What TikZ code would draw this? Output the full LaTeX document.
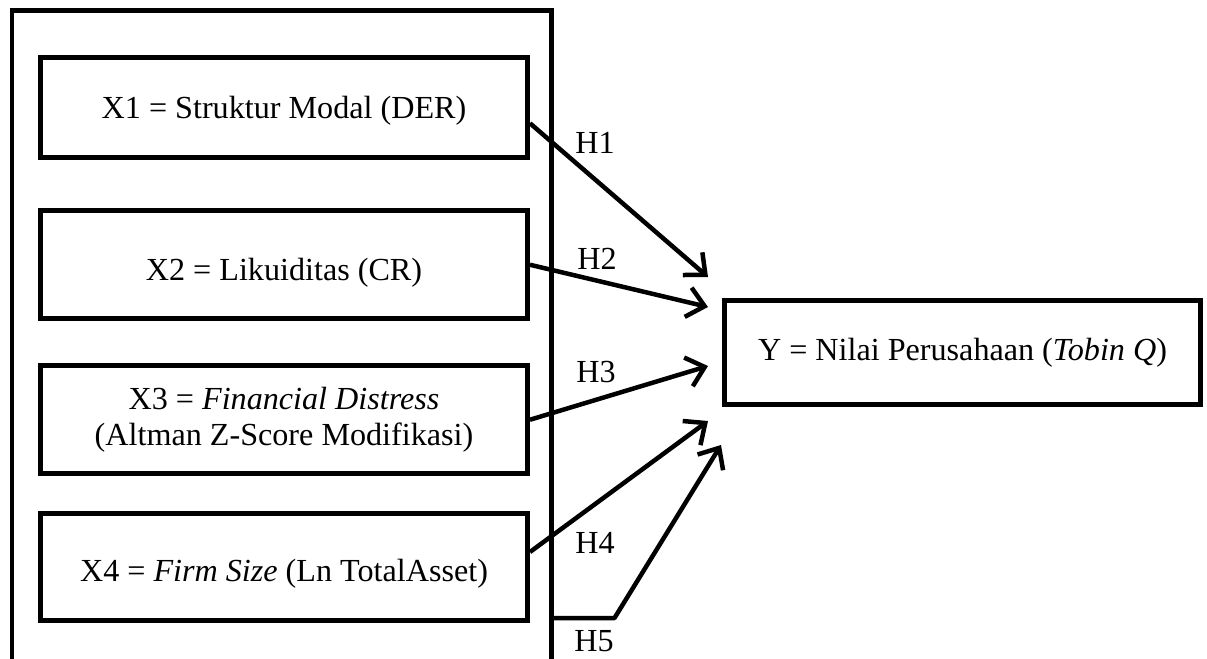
\documentclass[tikz,border=0pt]{standalone}
\usepackage{fontspec}
\setmainfont{Liberation Serif}
\usetikzlibrary{positioning, arrows.meta, calc}

\tikzset{
  varbox/.style={draw, line width=0.1cm, minimum width=9.74cm, align=center, inner sep=0pt},
  hyparrow/.style={line width=0.09cm, line join=round, -{Straight Barb[length=0.34cm, width=0.6cm]}},
  hyplabel/.style={inner sep=0pt}
}

\begin{document}
\begin{tikzpicture}[x=0.02cm, y=-0.02cm, font=\fontsize{18.3}{20}\selectfont]
\useasboundingbox (0,0) rectangle (1207,659);

% Kerangka variabel independen
\draw[line width=0.1cm] (12,659) -- (12,10.5) -- (551.5,10.5) -- (551.5,659);
\coordinate (frameout) at (551.5,618);

% X1 (Struktur Modal)
\node[varbox, minimum height=2.01cm, text height=0.6cm] (x1) at (284,107.25) {X1 = Struktur Modal (DER)};

% X2 (Likuiditas)
\node[varbox, minimum height=2.17cm, text height=0.75cm] (x2) at (284,264.75) {X2 = Likuiditas (CR)};

% X3 (Financial Distress)
\node[varbox, minimum height=2.17cm] (x3) at (284,419.75) {X3 = \textit{Financial Distress}\\(Altman Z-Score Modifikasi)};

% X4 (Firm Size)
\node[varbox, minimum height=2.14cm, text height=0.72cm] (x4) at (284,567) {X4 = \textit{Firm Size} (Ln TotalAsset)};

% Y (Nilai Perusahaan)
\node[varbox, minimum width=9.52cm, minimum height=2.08cm] (y) at (962.5,352.5) {Y = Nilai Perusahaan (\textit{Tobin Q})};

% Ujung panah
\coordinate (tip1) at (708,277);
\coordinate (tip2) at (708,307);
\coordinate (tip3) at (708,366);
\coordinate (tip4) at (708,421);
\coordinate (tip5) at (721,445);

% Hipotesis
\draw[hyparrow] ([yshift=-0.32cm]x1.east) -- (tip1);
\draw[hyparrow] (x2.east) -- (tip2);
\draw[hyparrow] (x3.east) -- (tip3);
\draw[hyparrow] ([yshift=0.3cm]x4.east) -- (tip4);
\draw[hyparrow] (frameout) -- ++(63,0) -- (tip5);

\node[hyplabel] (h1) at (595,143) {H1};
\node[hyplabel] (h2) at (597,259) {H2};
\node[hyplabel] (h3) at (596,372) {H3};
\node[hyplabel] (h4) at (595,543) {H4};
\node[hyplabel] (h5) at (594,641) {H5};

\end{tikzpicture}
\end{document}
